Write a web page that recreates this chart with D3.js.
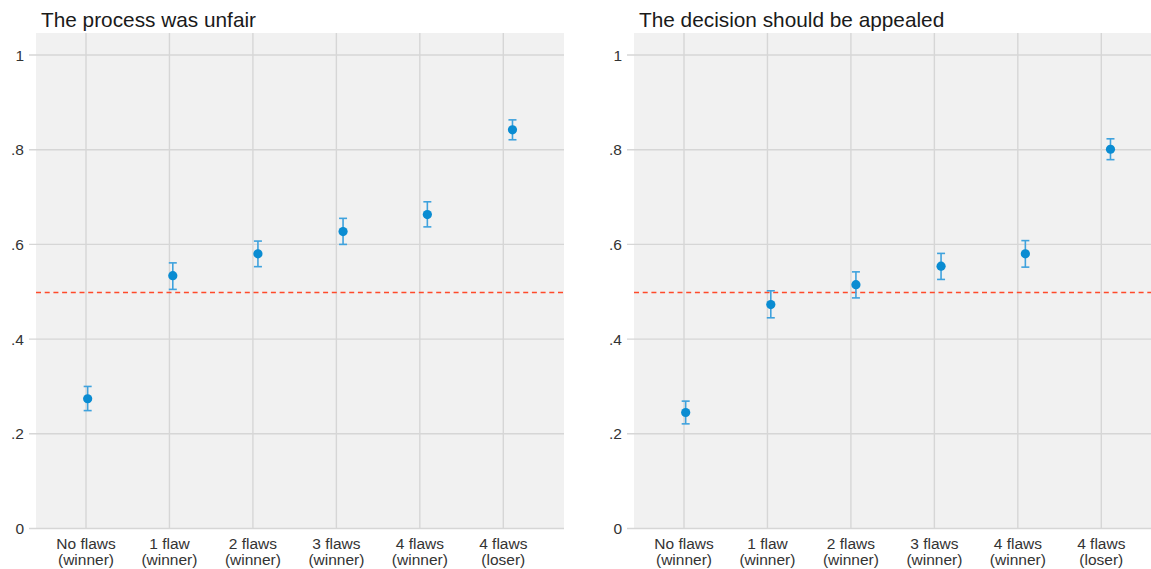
<!DOCTYPE html>
<html>
<head>
<meta charset="utf-8">
<script src="https://cdn.jsdelivr.net/npm/d3@7"></script>
<style>
  html, body { margin: 0; padding: 0; background: #ffffff; }
  svg { display: block; font-family: "Liberation Sans", Arial, sans-serif; }
</style>
</head>
<body>
<svg id="chart" width="1151" height="569"></svg>
<script>
// ---- data ----
const categoryLine1 = ["No flaws", "1 flaw", "2 flaws", "3 flaws", "4 flaws", "4 flaws"];
const categoryLine2 = ["(winner)", "(winner)", "(winner)", "(winner)", "(winner)", "(loser)"];
const categoryX = [1, 2, 3, 4, 5, 6];
const pointX = [1.02, 2.04, 3.06, 4.08, 5.09, 6.11];
const yTicks = [0, 0.2, 0.4, 0.6, 0.8, 1];
const yTickLabels = ["0", ".2", ".4", ".6", ".8", "1"];
const referenceLine = 0.5;

const titles = ["The process was unfair", "The decision should be appealed"];

const unfairEst = [0.274, 0.534, 0.580, 0.627, 0.663, 0.842];
const unfairLo  = [0.249, 0.505, 0.553, 0.600, 0.637, 0.821];
const unfairHi  = [0.300, 0.561, 0.607, 0.655, 0.690, 0.863];

const appealEst = [0.245, 0.473, 0.515, 0.554, 0.580, 0.801];
const appealLo  = [0.221, 0.445, 0.487, 0.526, 0.552, 0.779];
const appealHi  = [0.269, 0.502, 0.542, 0.581, 0.608, 0.823];

const seriesEst = [unfairEst, appealEst];
const seriesLo = [unfairLo, appealLo];
const seriesHi = [unfairHi, appealHi];

// ---- layout ----
const svg = d3.select("#chart");
const panelLeft = [36, 634];
const panelWidth = [528, 517];
const plotTop = 33, plotBottom = 528.5;
const y = d3.scaleLinear().domain([0, 1]).range([plotBottom, 55]);

const colPoint = "#0a8cd2";
const colCI = "#3fa2dd";

titles.forEach((title, p) => {
  const x0 = panelLeft[p];
  const x = d3.scaleLinear().domain([1, 6]).range([x0 + 50, x0 + 50 + 417.3]);
  const g = svg.append("g");

  // background
  g.append("rect")
    .attr("x", x0).attr("y", plotTop)
    .attr("width", panelWidth[p]).attr("height", plotBottom - plotTop)
    .attr("fill", "#f1f1f1");

  // horizontal grid
  g.selectAll(".hg").data(yTicks).enter().append("line")
    .attr("x1", x0 - 7).attr("x2", x0 + panelWidth[p])
    .attr("y1", d => y(d)).attr("y2", d => y(d))
    .attr("stroke", "#d6d6d6").attr("stroke-width", 1.4);

  // vertical grid
  g.selectAll(".vg").data(categoryX).enter().append("line")
    .attr("x1", d => x(d)).attr("x2", d => x(d))
    .attr("y1", plotTop).attr("y2", plotBottom)
    .attr("stroke", "#d6d6d6").attr("stroke-width", 1.4);

  // y tick labels
  g.selectAll(".yl").data(yTicks).enter().append("text")
    .attr("x", x0 - 12).attr("y", d => y(d) + 5.5)
    .attr("text-anchor", "end")
    .attr("font-size", 15.5).attr("fill", "#333")
    .text((d, i) => yTickLabels[i]);

  // x labels
  const xl = g.selectAll(".xl").data(categoryX).enter().append("text")
    .attr("text-anchor", "middle")
    .attr("font-size", 15.5).attr("fill", "#333");
  xl.append("tspan").attr("x", d => x(d)).attr("y", 548.5).text((d, i) => categoryLine1[i]);
  xl.append("tspan").attr("x", d => x(d)).attr("y", 564.5).text((d, i) => categoryLine2[i]);

  // reference line
  g.append("line")
    .attr("x1", x0).attr("x2", x0 + panelWidth[p])
    .attr("y1", Math.round(y(referenceLine)) + 0.5).attr("y2", Math.round(y(referenceLine)) + 0.5)
    .attr("stroke", "#ff4a2a").attr("stroke-width", 1.3)
    .attr("stroke-dasharray", "5,3.7");

  // title
  g.append("text")
    .attr("x", x0 + 5).attr("y", 26.5)
    .attr("font-size", 20.8).attr("fill", "#1a1a1a")
    .text(title);

  const est = seriesEst[p], lo = seriesLo[p], hi = seriesHi[p];
  const idx = d3.range(est.length);

  // CI
  g.selectAll(".ci").data(idx).enter().append("line")
    .attr("x1", i => x(pointX[i])).attr("x2", i => x(pointX[i]))
    .attr("y1", i => y(lo[i])).attr("y2", i => y(hi[i]))
    .attr("stroke", colCI).attr("stroke-width", 1.6);
  g.selectAll(".capT").data(idx).enter().append("line")
    .attr("x1", i => x(pointX[i]) - 4).attr("x2", i => x(pointX[i]) + 4)
    .attr("y1", i => y(hi[i])).attr("y2", i => y(hi[i]))
    .attr("stroke", colCI).attr("stroke-width", 1.6);
  g.selectAll(".capB").data(idx).enter().append("line")
    .attr("x1", i => x(pointX[i]) - 4).attr("x2", i => x(pointX[i]) + 4)
    .attr("y1", i => y(lo[i])).attr("y2", i => y(lo[i]))
    .attr("stroke", colCI).attr("stroke-width", 1.6);

  // points
  g.selectAll(".pt").data(idx).enter().append("circle")
    .attr("cx", i => x(pointX[i])).attr("cy", i => y(est[i]))
    .attr("r", 4.6).attr("fill", colPoint);
});
</script>
</body>
</html>
